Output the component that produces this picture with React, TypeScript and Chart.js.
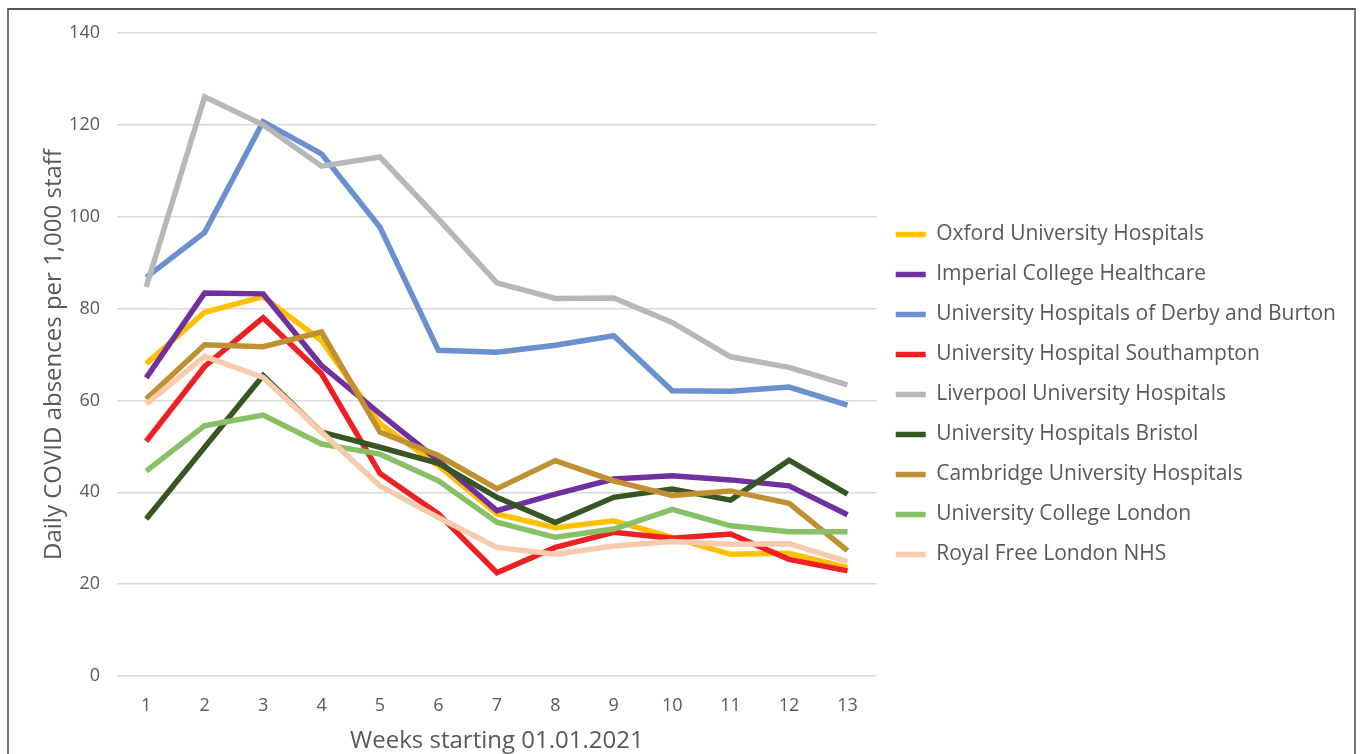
import React, { useEffect, useRef } from "react";
import { Chart, registerables } from "chart.js";

Chart.register(...registerables);

const weeks = ["1", "2", "3", "4", "5", "6", "7", "8", "9", "10", "11", "12", "13"];

const oxford = [68.0, 79.2, 82.6, 73.0, 54.9, 45.8, 35.3, 32.3, 33.8, 30.2, 26.5, 26.7, 23.6];
const imperial = [64.9, 83.4, 83.2, 67.6, 57.1, 46.9, 36.0, 39.6, 42.9, 43.6, 42.7, 41.4, 35.1];
const derby = [86.8, 96.6, 120.7, 113.7, 97.7, 70.9, 70.5, 72.0, 74.1, 62.1, 62.0, 62.9, 59.0];
const southampton = [51.1, 67.4, 78.0, 65.8, 44.1, 35.3, 22.5, 28.0, 31.3, 30.0, 30.9, 25.4, 22.9];
const liverpool = [84.7, 126.1, 120.0, 111.0, 113.0, 99.5, 85.6, 82.2, 82.3, 77.0, 69.5, 67.2, 63.4];
const bristol = [34.2, 49.8, 65.4, 53.1, 49.8, 46.3, 38.9, 33.4, 38.9, 40.7, 38.3, 47.0, 39.6];
const cambridge = [60.3, 72.1, 71.7, 74.9, 53.1, 48.0, 40.8, 46.9, 42.5, 39.3, 40.3, 37.6, 27.3];
const ucl = [44.6, 54.5, 56.8, 50.5, 48.3, 42.5, 33.5, 30.2, 32.0, 36.3, 32.7, 31.4, 31.4];
const royalFree = [59.2, 69.6, 65.0, 53.1, 41.4, 34.5, 28.0, 26.5, 28.3, 29.3, 28.7, 28.8, 24.9];

const seriesNames = [
  "Oxford University Hospitals",
  "Imperial College Healthcare",
  "University Hospitals of Derby and Burton",
  "University Hospital Southampton",
  "Liverpool University Hospitals",
  "University Hospitals Bristol",
  "Cambridge University Hospitals",
  "University College London",
  "Royal Free London NHS",
];
const seriesData = [oxford, imperial, derby, southampton, liverpool, bristol, cambridge, ucl, royalFree];
const seriesColors = [
  "#FFC000",
  "#7030A0",
  "#6A90CF",
  "#EE2024",
  "#B7B7B7",
  "#375623",
  "#BF9132",
  "#88C065",
  "#F8CBAD",
];

const yTicks = [0, 20, 40, 60, 80, 100, 120, 140];

const FONT = "'Open Sans', sans-serif";
const TEXT = "#595959";

export default function App() {
  const ref = useRef<HTMLCanvasElement | null>(null);

  useEffect(() => {
    if (!ref.current) return;
    const chart = new Chart(ref.current, {
      type: "line",
      data: {
        labels: weeks,
        datasets: seriesNames.map((name, i) => ({
          label: name,
          data: seriesData[i],
          borderColor: seriesColors[i],
          backgroundColor: seriesColors[i],
          borderWidth: 5.5,
          pointRadius: 0,
          tension: 0,
          fill: false,
          order: seriesNames.length - i,
        })),
      },
      options: {
        animation: false,
        responsive: false,
        layout: { padding: { top: 23, right: 8, bottom: 0, left: 0 } },
        plugins: {
          tooltip: { enabled: false },
          legend: {
            position: "right",
            maxWidth: 600,
            labels: {
              usePointStyle: true,
              pointStyle: "line",
              pointStyleWidth: 30,
              padding: 19,
              color: TEXT,
              font: { family: FONT, size: 21 },
              sort: (a: any, b: any) => a.datasetIndex - b.datasetIndex,
            },
          },
        },
        scales: {
          x: {
            offset: true,
            grid: { display: false, drawTicks: false },
            border: { display: false },
            ticks: { color: TEXT, font: { family: FONT, size: 18 }, padding: 19, maxRotation: 0 },
            title: {
              display: true,
              text: "Weeks starting 01.01.2021",
              color: TEXT,
              font: { family: FONT, size: 24 },
              padding: { top: 0, bottom: 0 },
            },
            afterFit: (s: any) => {
              s.height = 80;
            },
          },
          y: {
            min: 0,
            max: 140,
            afterBuildTicks: (s: any) => {
              s.ticks = yTicks.map((v) => ({ value: v }));
            },
            grid: { color: "#D9D9D9", lineWidth: 1.5, drawTicks: false },
            border: { display: false },
            ticks: { color: TEXT, font: { family: FONT, size: 18 }, padding: 17 },
            title: {
              display: true,
              text: "Daily COVID absences per 1,000 staff",
              color: TEXT,
              font: { family: FONT, size: 24 },
              padding: { top: 31, bottom: 0 },
            },
            afterFit: (s: any) => {
              s.width = 108;
              s.paddingTop = 0;
              s.paddingBottom = 0;
            },
          },
        },
      },
    });
    return () => chart.destroy();
  }, []);

  return (
    <div
      style={{
        position: "fixed",
        left: 7,
        top: 8,
        width: 1345,
        height: 746,
        borderTop: "2px solid #555",
        borderLeft: "2px solid #777",
        borderRight: "2px solid #777",
        background: "#fff",
      }}
    >
      <canvas ref={ref} width={1345} height={746} style={{ display: "block" }} />
    </div>
  );
}
